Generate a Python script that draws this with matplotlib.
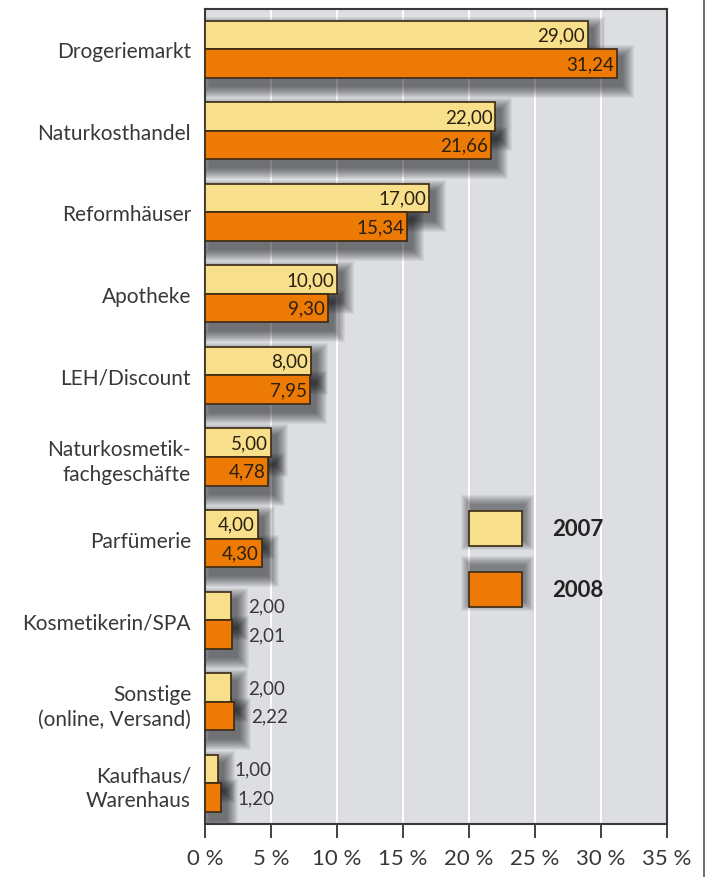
import matplotlib
matplotlib.use("Agg")
import matplotlib.pyplot as plt
from matplotlib.patches import Rectangle
from matplotlib.lines import Line2D
import numpy as np

plt.rcParams['font.family'] = ['Lato', 'DejaVu Sans']

categories = ["Drogeriemarkt", "Naturkosthandel", "Reformhäuser", "Apotheke",
              "LEH/Discount", "Naturkosmetik-\nfachgeschäfte", "Parfümerie",
              "Kosmetikerin/SPA", "Sonstige\n(online, Versand)", "Kaufhaus/\nWarenhaus"]
values_2007 = [29.00, 22.00, 17.00, 10.00, 8.00, 5.00, 4.00, 2.00, 2.00, 1.00]
values_2008 = [31.24, 21.66, 15.34, 9.30, 7.95, 4.78, 4.30, 2.01, 2.22, 1.20]
series_labels = ["2007", "2008"]
xticks = [0, 5, 10, 15, 20, 25, 30, 35]
xtick_labels = ["0 %", "5 %", "10 %", "15 %", "20 %", "25 %", "30 %", "35 %"]

c07 = "#F8DF8C"
c08 = "#EC7A05"
edge = "#3a2a14"
bg = "#DCDEE1"
txt = "#383838"

W, H = 707, 878
fig = plt.figure(figsize=(W / 100, H / 100), dpi=100)
ax_l, ax_r, ax_b, ax_t = 205, 667, 825, 9.5
ax = fig.add_axes([ax_l / W, 1 - ax_b / H, (ax_r - ax_l) / W, (ax_b - ax_t) / H])
ax.set_facecolor(bg)
ax.set_xlim(0, 35)
ax.set_ylim(9.5, -0.5)

pxx = (ax_r - ax_l) / 35.0   # px per %
pxy = (ax_b - ax_t) / 10.0   # px per category

for g in xticks[1:-1]:
    ax.axvline(g, color="white", lw=1.4, zorder=1)

h = 0.35
y = np.arange(len(categories))

def shadow(x0, ylow, w, hh, dxp=5, dyp=8, n=12, a=0.05):
    dx, dy = dxp / pxx, dyp / pxy
    for i in range(n, 0, -1):
        ex, ey = i / pxx, i / pxy
        ax.add_patch(Rectangle((x0 + dx - ex, ylow + dy - ey), w + 2 * ex, hh + 2 * ey,
                               facecolor="black", edgecolor="none", alpha=a, zorder=2))

for i in range(len(categories)):
    shadow(0, y[i] - h, values_2007[i], h)
    shadow(0, y[i], values_2008[i], h)

ax.barh(y - h / 2, values_2007, height=h, color=c07, edgecolor=edge, lw=1.2, zorder=3)
ax.barh(y + h / 2, values_2008, height=h, color=c08, edgecolor=edge, lw=1.2, zorder=3)

def fmt(v):
    return f"{v:.2f}".replace(".", ",")

for i in range(len(categories)):
    for v, yy in ((values_2007[i], y[i] - h / 2), (values_2008[i], y[i] + h / 2)):
        if v >= 3:
            ax.annotate(fmt(v), (v, yy), xytext=(-2, 0), textcoords="offset points",
                        ha="right", va="center", fontsize=13.5, color="#2a2010",
                        zorder=5)
        else:
            ax.annotate(fmt(v), (v, yy), xytext=(12, 0), textcoords="offset points",
                        ha="left", va="center", fontsize=13.5, color=txt,
                        zorder=5)

ax.set_yticks(y)
ax.set_yticklabels(categories, fontsize=15, color=txt, linespacing=1.3)
ax.tick_params(axis="y", length=0, pad=10)
ax.set_xticks(xticks)
ax.set_xticklabels(xtick_labels, fontsize=16, color=txt)
ax.tick_params(axis="x", length=10, width=1.3, color="#333333", pad=7, direction="out")

for s in ax.spines.values():
    s.set_color("#3a3a3a")
    s.set_linewidth(1.5)

# legend
for j, (lab, col) in enumerate(zip(series_labels, [c07, c08])):
    yc = 5.88 + 0.75 * j  # category units
    x0, w = 20.0, 4.0
    hh = 0.43
    shadow(x0, yc - hh / 2, w, hh, dxp=2, dyp=-6, n=10, a=0.05)
    ax.add_patch(Rectangle((x0, yc - hh / 2), w, hh, facecolor=col, edgecolor=edge,
                           lw=1.2, zorder=3))
    ax.text(26.3, yc, lab, ha="left", va="center", fontsize=16, fontweight="bold",
            color="#222222", zorder=5)

fig.add_artist(Line2D([704 / W, 704 / W], [0, 1], color="#555555", lw=1.2,
                      transform=fig.transFigure))

fig.savefig("out.png", dpi=100, facecolor="white")
